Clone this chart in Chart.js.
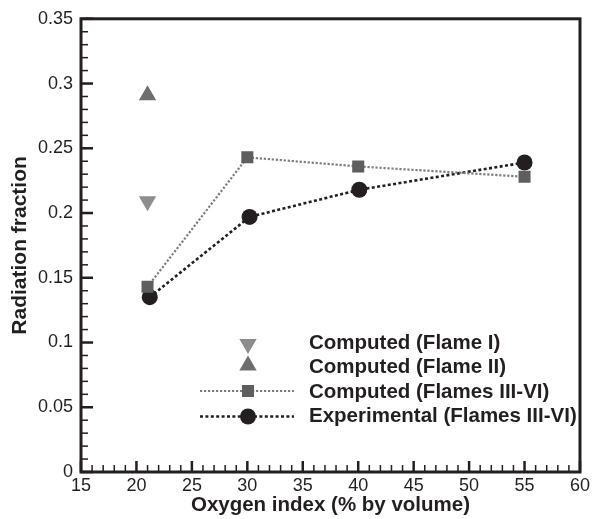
<!DOCTYPE html>
<html>
<head>
<meta charset="utf-8">
<script src="https://cdn.jsdelivr.net/npm/chart.js@4.4.1/dist/chart.umd.min.js"></script>
<style>
  html, body { margin: 0; padding: 0; background: #fff; }
  #wrap { width: 593px; height: 519px; position: relative; }
</style>
</head>
<body>
<div id="wrap"><canvas id="c"></canvas></div>
<script>
// ---- data ----
const flameIX = [21];
const flameIY = [0.209];
const flameIIX = [21];
const flameIIY = [0.291];
const computedX = [21, 30, 40, 55];
const computedY = [0.143, 0.243, 0.236, 0.228];
const expX = [21.2, 30.2, 40.1, 55];
const expY = [0.135, 0.197, 0.218, 0.239];
const seriesLabels = [
  'Computed (Flame I)',
  'Computed (Flame II)',
  'Computed (Flames III-VI)',
  'Experimental (Flames III-VI)'
];
const xTitle = 'Oxygen index (% by volume)';
const yTitle = 'Radiation fraction';

const pts = (xs, ys) => xs.map((x, i) => ({ x: x, y: ys[i] }));
const FONT = '"Liberation Sans", Arial, Helvetica, sans-serif';

// inward minor/major ticks + box frame + legend
const framePlugin = {
  id: 'frame',
  afterDatasetsDraw(chart) {
    const { ctx, chartArea: a, scales } = chart;
    const xs = scales.x, ys = scales.y;
    ctx.save();
    ctx.strokeStyle = '#231f20';
    // y ticks
    for (let k = 0; k <= 35; k++) {
      const v = k / 100;
      const py = ys.getPixelForValue(v);
      const major = k % 5 === 0;
      ctx.lineWidth = major ? 2.5 : 1.5;
      ctx.beginPath();
      ctx.moveTo(a.left, py);
      ctx.lineTo(a.left + (major ? 12 : 7), py);
      ctx.stroke();
    }
    // x ticks
    for (let v = 15; v <= 60; v++) {
      const px = xs.getPixelForValue(v);
      const major = v % 5 === 0;
      ctx.lineWidth = major ? 2.5 : 1.5;
      ctx.beginPath();
      ctx.moveTo(px, a.bottom);
      ctx.lineTo(px, a.bottom - (major ? 11 : 7));
      ctx.stroke();
    }
    // frame
    ctx.lineWidth = 3;
    ctx.strokeRect(a.left, a.top, a.right - a.left, a.bottom - a.top);

    // legend
    const ds = chart.data.datasets;
    const rowsY = [342, 366.5, 391, 415.5];
    const symDY = [2, -1, 0, 1];
    const symX = 248, lineL = 200, lineR = 294, textX = 309;
    ctx.font = 'bold 20.5px ' + FONT;
    ctx.textBaseline = 'middle';
    ctx.textAlign = 'left';
    ds.forEach((d, i) => {
      const y = rowsY[i];
      if (d.showLine) {
        ctx.save();
        ctx.strokeStyle = d.borderColor;
        ctx.lineWidth = d.borderWidth;
        ctx.setLineDash(d.borderDash);
        ctx.beginPath();
        ctx.moveTo(lineL, y + symDY[i]);
        ctx.lineTo(lineR, y + symDY[i]);
        ctx.stroke();
        ctx.restore();
      }
      ctx.save();
      ctx.fillStyle = d.pointBackgroundColor;
      ctx.strokeStyle = d.pointBorderColor;
      Chart.helpers.drawPoint(ctx, {
        pointStyle: d.pointStyle,
        radius: d.pointRadius,
        rotation: d.pointRotation || 0,
        borderWidth: d.pointBorderWidth
      }, symX, y + symDY[i]);
      ctx.restore();
      ctx.fillStyle = '#231f20';
      ctx.fillText(d.label, textX, y + 1);
    });
    ctx.restore();
  }
};

new Chart(document.getElementById('c'), {
  type: 'scatter',
  data: {
    datasets: [
      {
        label: seriesLabels[0],
        data: pts(flameIX, flameIY),
        pointStyle: 'triangle', pointRotation: 180, pointRadius: 10,
        pointBackgroundColor: '#8d8d8d', pointBorderColor: '#8d8d8d', pointBorderWidth: 0,
        showLine: false
      },
      {
        label: seriesLabels[1],
        data: pts(flameIIX, flameIIY),
        pointStyle: 'triangle', pointRadius: 10,
        pointBackgroundColor: '#6e6e6e', pointBorderColor: '#6e6e6e', pointBorderWidth: 0,
        showLine: false
      },
      {
        label: seriesLabels[2],
        data: pts(computedX, computedY),
        pointStyle: 'rect', pointRadius: 8.5,
        pointBackgroundColor: '#5e5e5e', pointBorderColor: '#5e5e5e', pointBorderWidth: 0,
        showLine: true, borderColor: '#7c7c7c', borderWidth: 2.2, borderDash: [2.2, 1.8]
      },
      {
        label: seriesLabels[3],
        data: pts(expX, expY),
        pointStyle: 'circle', pointRadius: 8,
        pointBackgroundColor: '#231f20', pointBorderColor: '#231f20', pointBorderWidth: 0,
        showLine: true, borderColor: '#231f20', borderWidth: 2.6, borderDash: [3, 2.4]
      }
    ]
  },
  plugins: [framePlugin],
  options: {
    responsive: true,
    maintainAspectRatio: false,
    animation: false,
    layout: { padding: { top: 14, right: 8, left: 0, bottom: 0 } },
    plugins: { legend: { display: false }, tooltip: { enabled: false } },
    scales: {
      x: {
        type: 'linear', min: 15, max: 60,
        ticks: { stepSize: 5, color: '#231f20', padding: 3,
          font: { family: FONT, size: 18 } },
        grid: { display: false, drawTicks: false },
        border: { display: false },
        title: { display: true, text: xTitle, color: '#231f20', padding: { top: 0, bottom: 1 },
          font: { family: FONT, size: 20.5, weight: 'bold' } },
        afterFit(s) { s.height = 47; }
      },
      y: {
        type: 'linear', min: 0, max: 0.35,
        ticks: { stepSize: 0.05, color: '#231f20', padding: 8,
          font: { family: FONT, size: 18 },
          callback: v => String(Number(v.toFixed(2))) },
        grid: { display: false, drawTicks: false },
        border: { display: false },
        title: { display: true, text: yTitle, color: '#231f20', padding: { top: 8, bottom: 0 },
          font: { family: FONT, size: 21, weight: 'bold' } },
        afterFit(s) { s.width = 81; }
      }
    }
  }
});
</script>
</body>
</html>
